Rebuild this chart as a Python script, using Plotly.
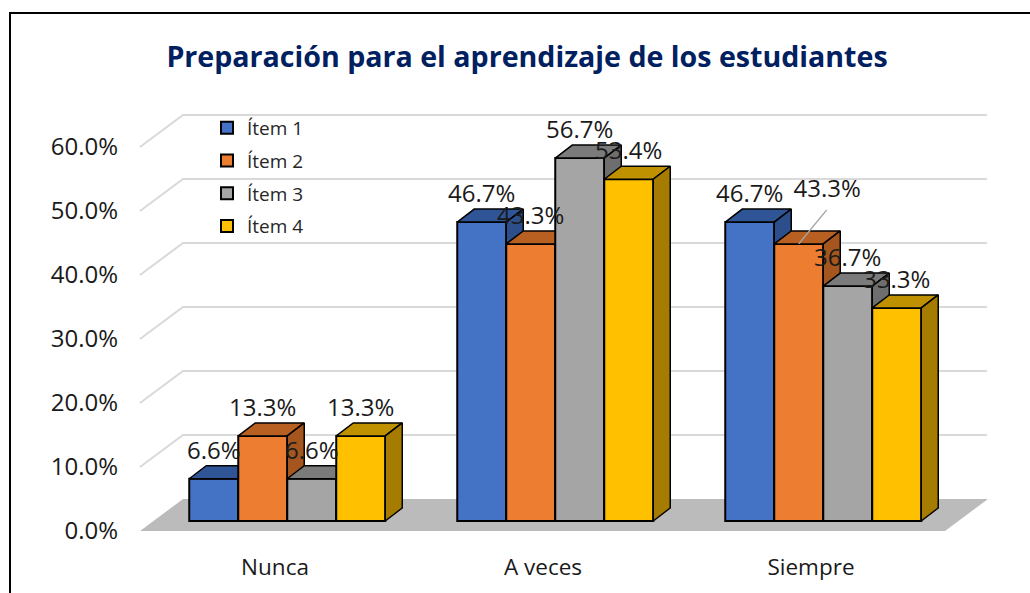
import plotly.graph_objects as go

categories = ["Nunca", "A veces", "Siempre"]
series_names = ["Ítem 1", "Ítem 2", "Ítem 3", "Ítem 4"]
item_1 = [6.6, 46.7, 46.7]
item_2 = [13.3, 43.3, 43.3]
item_3 = [6.6, 56.7, 36.7]
item_4 = [13.3, 53.4, 33.3]
series_values = [item_1, item_2, item_3, item_4]
y_ticks = [0, 10, 20, 30, 40, 50, 60]
y_tick_labels = ["0.0%", "10.0%", "20.0%", "30.0%", "40.0%", "50.0%", "60.0%"]

front_colors = ["#4472C4", "#ED7D31", "#A5A5A5", "#FFC000"]
top_colors = ["#2F5597", "#B85F22", "#7B7B7B", "#BF9000"]
side_colors = ["#2C4F8C", "#A5561F", "#6E6E6E", "#A67C00"]

W, H = 1030, 593
PX_X = 268.0          # pixels per category
PX_Y = 6.4            # pixels per percent
L, R, T, B = 119, 987, 100, 551
X0_PX, Y0_PX = 275.0, 531.0
xr = [(L - X0_PX) / PX_X, (R - X0_PX) / PX_X]
yr = [(Y0_PX - B) / PX_Y, (Y0_PX - T) / PX_Y]

fx = lambda px: px / PX_X
fy = lambda px: px / PX_Y
bar_w = fx(49)
bar_dx, bar_dy = fx(17), fy(13)
base = fy(10)
shift = fx(12.25)
wall_dx, wall_dy = fx(43), fy(32)
front_left, front_right = fx(140 - X0_PX), fx(945 - X0_PX)

fig = go.Figure()

# floor
fig.add_trace(go.Scatter(
    x=[front_left, front_left + wall_dx, front_right + wall_dx, front_right, front_left],
    y=[0, wall_dy, wall_dy, 0, 0], mode="lines", fill="toself",
    fillcolor="#BBBBBB", line=dict(width=0), showlegend=False, hoverinfo="skip"))
# wall gridlines
for t in y_ticks[1:]:
    fig.add_trace(go.Scatter(
        x=[front_left, front_left + wall_dx, front_right + wall_dx],
        y=[t, t + wall_dy, t + wall_dy], mode="lines",
        line=dict(color="#D9D9D9", width=2), showlegend=False, hoverinfo="skip"))

for s, vals in enumerate(series_values):
    n = s + 2
    xa, ya = f"x{n}", f"y{n}"
    xs = [i + (s - 1.5) * bar_w + shift for i in range(len(categories))]
    fig.add_trace(go.Bar(
        x=xs, y=vals, base=base, width=bar_w, name=series_names[s],
        marker=dict(color=front_colors[s], line=dict(color="black", width=2)),
        xaxis=xa, yaxis=ya, legendgroup=series_names[s], hoverinfo="skip"))
    for x, v in zip(xs, vals):
        xl, xr_ = x - bar_w / 2, x + bar_w / 2
        top = v + base
        fig.add_trace(go.Scatter(
            x=[xl, xl + bar_dx, xr_ + bar_dx, xr_, xl],
            y=[top, top + bar_dy, top + bar_dy, top, top],
            mode="lines", fill="toself", fillcolor=top_colors[s],
            line=dict(color="black", width=1.5), xaxis=xa, yaxis=ya,
            showlegend=False, hoverinfo="skip"))
        fig.add_trace(go.Scatter(
            x=[xr_, xr_ + bar_dx, xr_ + bar_dx, xr_, xr_],
            y=[base, base + bar_dy, top + bar_dy, top, base],
            mode="lines", fill="toself", fillcolor=side_colors[s],
            line=dict(color="black", width=1.5), xaxis=xa, yaxis=ya,
            showlegend=False, hoverinfo="skip"))

# data labels, drawn on the top layer
label_x, label_y, label_text = [], [], []
for s, vals in enumerate(series_values):
    for i, v in enumerate(vals):
        x = i + (s - 1.5) * bar_w + shift
        y = v + base + fy(26)
        if s == 1 and i == 2:
            fig.add_trace(go.Scatter(
                x=[x, x + fx(28)], y=[v + base, v + base + fy(34)], mode="lines",
                line=dict(color="#A6A6A6", width=1.5), xaxis="x5", yaxis="y5",
                showlegend=False, hoverinfo="skip"))
            x += fx(28.5)
            y += fy(27)
        label_x.append(x)
        label_y.append(y)
        label_text.append(f"{v:.1f}%")
fig.add_trace(go.Scatter(
    x=label_x, y=label_y, text=label_text, mode="text", textposition="middle center",
    textfont=dict(family="Open Sans", size=24, color="#1a1a1a"), xaxis="x5", yaxis="y5",
    showlegend=False, hoverinfo="skip"))

layout = dict(
    width=W, height=H, autosize=False,
    margin=dict(l=L, r=W - R, t=T, b=H - B, pad=0),
    paper_bgcolor="white", plot_bgcolor="rgba(0,0,0,0)",
    barmode="overlay",
    font=dict(family="Open Sans", color="#1a1a1a"),
    title=dict(text="<b>Preparación para el aprendizaje de los estudiantes</b>",
               x=527 / W, y=1 - 57 / H, xref="container", yref="container",
               xanchor="center", yanchor="middle",
               font=dict(family="Open Sans", size=28.6, color="#002060")),
    xaxis=dict(range=xr, tickmode="array", tickvals=list(range(len(categories))),
               ticktext=categories, showgrid=False, zeroline=False, showline=False,
               tickfont=dict(size=22.5), ticks="", fixedrange=True),
    yaxis=dict(range=yr, tickmode="array", tickvals=y_ticks, ticktext=y_tick_labels,
               showgrid=False, zeroline=False, showline=False,
               tickfont=dict(size=24), ticks="", fixedrange=True),
    legend=dict(x=(207 - L) / (R - L), y=(B - 109) / (B - T), xanchor="left", yanchor="top",
                bgcolor="rgba(0,0,0,0)", font=dict(size=19, color="#262626"),
                tracegroupgap=5, traceorder="grouped"),
    shapes=[dict(type="path", xref="paper", yref="paper",
                 path=f"M {(10 - L) / (R - L)} {(B - 700) / (B - T)} "
                      f"L {(10 - L) / (R - L)} {(B - 13) / (B - T)} "
                      f"L {(1030 - L) / (R - L)} {(B - 13) / (B - T)}",
                 line=dict(color="black", width=2))],
)
for n in range(2, 6):
    layout[f"xaxis{n}"] = dict(overlaying="x", range=xr, visible=False, anchor=f"y{n}", fixedrange=True)
    layout[f"yaxis{n}"] = dict(overlaying="y", range=yr, visible=False, anchor=f"x{n}", fixedrange=True)
fig.update_layout(**layout)

fig.write_html("out.html", post_script="document.body.style.margin='0';document.documentElement.style.overflow='hidden';",
               config=dict(displayModeBar=False))
